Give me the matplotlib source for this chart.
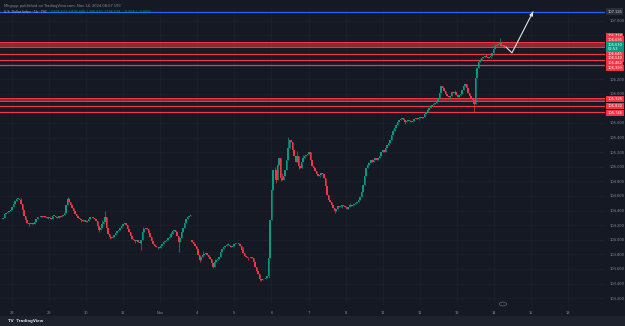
import matplotlib.pyplot as plt
import matplotlib.transforms as mtransforms
from matplotlib.patches import Rectangle

# hourly closes, U.S. Dollar Index
closes = [
    104.30, 104.35, 104.37, 104.38, 104.39, 104.41, 104.45, 104.49, 104.53, 104.56,
    104.56, 104.54, 104.49, 104.41, 104.33, 104.27, 104.23, 104.22, 104.22, 104.23,
    104.22, 104.24, 104.28, 104.31, 104.31, 104.33, 104.31, 104.33, 104.31, 104.30,
    104.31, 104.30, 104.28, 104.33, 104.33, 104.31, 104.30, 104.33, 104.31, 104.33,
    104.34, 104.37, 104.48, 104.56, 104.52, 104.48, 104.43, 104.39, 104.35, 104.33,
    104.30, 104.28, 104.27, 104.26, 104.27, 104.24, 104.26, 104.28, 104.31, 104.31,
    104.30, 104.28, 104.26, 104.19, 104.13, 104.16, 104.22, 104.24, 104.31, 104.16,
    104.08, 104.04, 104.02, 104.04, 104.06, 104.09, 104.12, 104.13, 104.16, 104.19,
    104.22, 104.23, 104.20, 104.15, 104.11, 104.05, 104.01, 104.00, 103.98, 104.00,
    103.97, 103.95, 104.00, 104.11, 104.15, 104.16, 104.15, 104.09, 104.04, 103.98,
    103.94, 103.91, 103.90, 103.90, 103.89, 103.91, 103.94, 103.97, 103.98, 104.00,
    104.02, 104.04, 104.08, 104.12, 104.13, 104.11, 104.05, 103.97, 104.02, 104.11,
    104.16, 104.23, 104.28, 104.31, 104.33, 104.34,
    103.97, 103.94, 103.91, 103.87, 103.79, 103.72, 103.76, 103.79, 103.80, 103.82,
    103.79, 103.76, 103.74, 103.68, 103.63, 103.69, 103.72, 103.74, 103.76, 103.83,
    103.87, 103.90, 103.91, 103.93, 103.93, 103.91, 103.90, 103.91, 103.94, 103.95,
    103.95, 103.94, 103.91, 103.86, 103.82, 103.78, 103.76, 103.75, 103.75, 103.76,
    103.75, 103.69, 103.63, 103.57, 103.53, 103.46, 103.45, 103.46, 103.46, 103.48,
    103.50, 103.75, 104.27, 104.68, 104.95, 104.95, 104.82, 105.02, 105.12, 104.85,
    104.82, 104.87, 104.95, 105.09, 105.26, 105.37, 105.34, 105.23, 105.15, 105.06,
    105.15, 105.01, 104.98, 105.06, 105.12, 105.15, 105.16, 105.17, 105.20, 105.09,
    105.01, 104.98, 104.94, 104.90, 104.87, 104.89, 104.91, 104.90, 104.85, 104.74,
    104.61, 104.54, 104.52, 104.48, 104.43, 104.39, 104.42, 104.46, 104.45, 104.46,
    104.48, 104.46, 104.45, 104.42, 104.45, 104.48, 104.46, 104.48, 104.49, 104.50,
    104.52, 104.54, 104.58, 104.65, 104.75, 104.87, 104.98, 105.02, 105.05, 105.09,
    105.06, 105.09, 105.12, 105.09, 105.12, 105.15, 105.20, 105.23, 105.20, 105.26,
    105.30, 105.33, 105.37, 105.43, 105.49, 105.53, 105.57, 105.61, 105.64, 105.65,
    105.67, 105.64, 105.61, 105.63, 105.64, 105.63, 105.61, 105.63, 105.65, 105.67,
    105.65, 105.67, 105.68, 105.67, 105.68, 105.72, 105.75, 105.78, 105.80, 105.83,
    105.85, 105.86, 105.87, 105.90, 105.94, 106.01, 106.11, 106.08, 106.04, 106.00,
    105.97, 105.96, 105.97, 106.02, 106.01, 106.02, 105.98, 105.96, 105.98, 106.00,
    106.05, 106.11, 106.13, 106.08, 106.01, 105.97, 105.94, 105.91, 105.86, 106.22,
    106.35, 106.43, 106.46, 106.49, 106.50, 106.52, 106.50, 106.49, 106.50, 106.52,
    106.56, 106.61, 106.65, 106.67, 106.68, 106.69, 106.65, 106.67, 106.63,
]
first_open = 104.28
session_opens = {126: 103.99}  # monday open after the weekend gap
wick_highs = {12: 104.57, 43: 104.58, 44: 104.57, 66: 104.27, 68: 104.39, 93: 104.18,
              112: 104.10, 119: 104.14, 133: 103.84, 141: 103.73, 150: 103.96,
              160: 103.90, 179: 104.74, 181: 105.00, 183: 105.10, 186: 104.92,
              190: 105.41, 196: 105.21, 200: 105.16, 216: 104.66, 231: 104.51,
              239: 104.67, 243: 105.06, 246: 105.10, 260: 105.51, 283: 105.80,
              296: 106.00, 301: 106.05, 307: 106.14, 318: 106.48, 322: 106.54,
              328: 106.68, 331: 106.76}
wick_lows = {17: 104.19, 30: 104.28, 52: 104.24, 64: 104.11, 71: 104.01, 88: 103.95,
             92: 103.86, 103: 103.87, 117: 103.83, 131: 103.70, 140: 103.61,
             163: 103.72, 171: 103.43, 172: 103.43, 177: 103.48, 182: 104.78,
             185: 104.80, 197: 104.97, 211: 104.86, 221: 104.36, 226: 104.44,
             268: 105.59, 277: 105.64, 298: 105.93, 304: 105.95, 314: 105.75,
             319: 106.46, 325: 106.49}

# drawn levels
zones = [(106.64, 106.71), (105.907, 105.941)]
levels = [106.540, 106.462, 106.393, 105.832, 105.746]
blue_level = 107.126

# price scale labels
price_ticks = [103.2, 103.4, 103.6, 103.8, 104.0, 104.2, 104.4, 104.6, 104.8, 105.0,
               105.2, 105.4, 105.6, 105.8, 106.0, 106.2, 106.4, 106.6, 106.8, 107.0]
hidden_ticks = [105.8, 106.4, 106.6, 106.8]
tag_y = [106.790, 106.743, 106.551, 106.483, 106.421, 106.352, 105.928, 105.832, 105.736]
tag_text = ["106.718", "106.695", "106.645", "106.540", "106.462", "106.393",
            "105.925", "105.832", "105.746"]
last_tag = "106.630\n52:53"

day_labels = ["28", "29", "30", "31", "Nov", "4", "5", "6", "7", "8",
              "11", "12", "13", "14", "15", "18"]

# projection arrow (drawing)
arrow_x = [335.3, 339.3, 353.3]
arrow_y = [106.64, 106.56, 107.12]

bg = "#151924"
up, down = "#089981", "#f23645"
red = "#f23645"
txt = "#8a8e99"

fig = plt.figure(figsize=(6.25, 3.26), dpi=100)
fig.patch.set_facecolor(bg)
ax = fig.add_axes([0, 21 / 326, 605 / 625, 296 / 326])
ax.set_facecolor(bg)

n = len(closes)
xs = list(range(n))
opens = [first_open] + closes[:-1]
for k, v in session_opens.items():
    opens[k] = v
highs = [max(o, c) for o, c in zip(opens, closes)]
lows = [min(o, c) for o, c in zip(opens, closes)]
for k, v in wick_highs.items():
    highs[k] = max(highs[k], v)
for k, v in wick_lows.items():
    lows[k] = min(lows[k], v)

cols = [up if c >= o else down for o, c in zip(opens, closes)]
ax.vlines(xs, lows, highs, colors=cols, lw=0.5, zorder=3)
heights = [c - o if abs(c - o) > 0.006 else 0.006 for o, c in zip(opens, closes)]
ax.bar(xs, heights, bottom=opens, width=0.9, color=cols, lw=0, zorder=4)

# grid
bars_per_day = 24.71
day_pos = [6 + bars_per_day * k for k in range(len(day_labels))]
for p in day_pos:
    ax.axvline(p, color="#1b1f2a", lw=0.6, zorder=0)
for p in price_ticks:
    ax.axhline(p, color="#1b1f2a", lw=0.6, zorder=0)

# levels
for lo, hi in zones:
    ax.axhspan(lo, hi, color=red, alpha=0.55, lw=0, zorder=2)
    ax.axhline(lo, color=red, lw=0.7, zorder=2)
    ax.axhline(hi, color=red, lw=0.7, zorder=2)
for lv in levels:
    ax.axhline(lv, color=red, lw=0.9, zorder=2)
ax.axhline(blue_level, color="#2962ff", lw=0.9, zorder=2)

ax.plot(arrow_x, arrow_y, color="#e0e3eb", lw=0.8, zorder=6)
ax.annotate("", xy=(arrow_x[2], arrow_y[2]), xytext=(arrow_x[2] - 1.2, arrow_y[2] - 0.05),
            arrowprops=dict(arrowstyle="-|>", color="#e0e3eb", lw=0.8,
                            mutation_scale=5), zorder=6)

ax.set_xlim(-2, 401.33)
ax.set_ylim(103.106, 107.161)

ax.yaxis.tick_right()
ax.set_yticks(price_ticks)
ax.set_yticklabels(["" if t in hidden_ticks else f"{t:.3f}" for t in price_ticks])
ax.set_xticks(day_pos)
ax.set_xticklabels(day_labels)
ax.tick_params(axis="y", length=0, pad=3, labelsize=2.6, labelcolor=txt)
ax.tick_params(axis="x", length=0, pad=4, labelsize=2.6, labelcolor=txt)
for s in ax.spines.values():
    s.set_visible(False)

# tags on the price scale
tr = mtransforms.blended_transform_factory(ax.transAxes, ax.transData)
for y, t in zip(tag_y, tag_text):
    ax.text(1.004, y, t, transform=tr, fontsize=2.6, color="white", ha="left",
            va="center", clip_on=False, zorder=10,
            bbox=dict(boxstyle="square,pad=0.35", fc=red, ec="none"))
ax.text(1.004, 106.64, last_tag, transform=tr, fontsize=2.6, color="white", ha="left",
        va="center", clip_on=False, zorder=10, linespacing=1.1,
        bbox=dict(boxstyle="square,pad=0.35", fc=up, ec="none"))
ax.text(1.004, blue_level, f"{blue_level:.3f}", transform=tr, fontsize=2.6,
        color="#d1d4dc", ha="left", va="center", clip_on=False, zorder=10,
        bbox=dict(boxstyle="square,pad=0.35", fc="#2a2e39", ec="none"))

# header / footer
fig.text(0.006, 0.988, "Mhguyp published on TradingView.com, Nov 14, 2024 08:07 UTC",
         fontsize=2.6, color=txt, va="top")
fig.text(0.006, 0.962, "U.S. Dollar Index \u00b7 1h \u00b7 TVC", fontsize=2.3,
         color="#b2b5be", va="center")
fig.text(0.082, 0.962, "O106.632  H106.680  L106.610  C106.628  \u22120.004 (\u22120.00%)",
         fontsize=2.3, color=up, va="center")
fig.patches.append(Rectangle((0, 0), 1, 10 / 326, transform=fig.transFigure,
                             color="#1e222d", zorder=0))
fig.text(0.012, 5 / 326, "TV  TradingView", fontsize=2.8, color="#d1d4dc",
         va="center", fontweight="bold")
fig.patches.append(plt.Circle((503 / 625, 1 - 304 / 326), 0.006, transform=fig.transFigure,
                              fill=False, ec="#787b86", lw=0.4))

fig.savefig("out.png", dpi=100, facecolor=bg)
